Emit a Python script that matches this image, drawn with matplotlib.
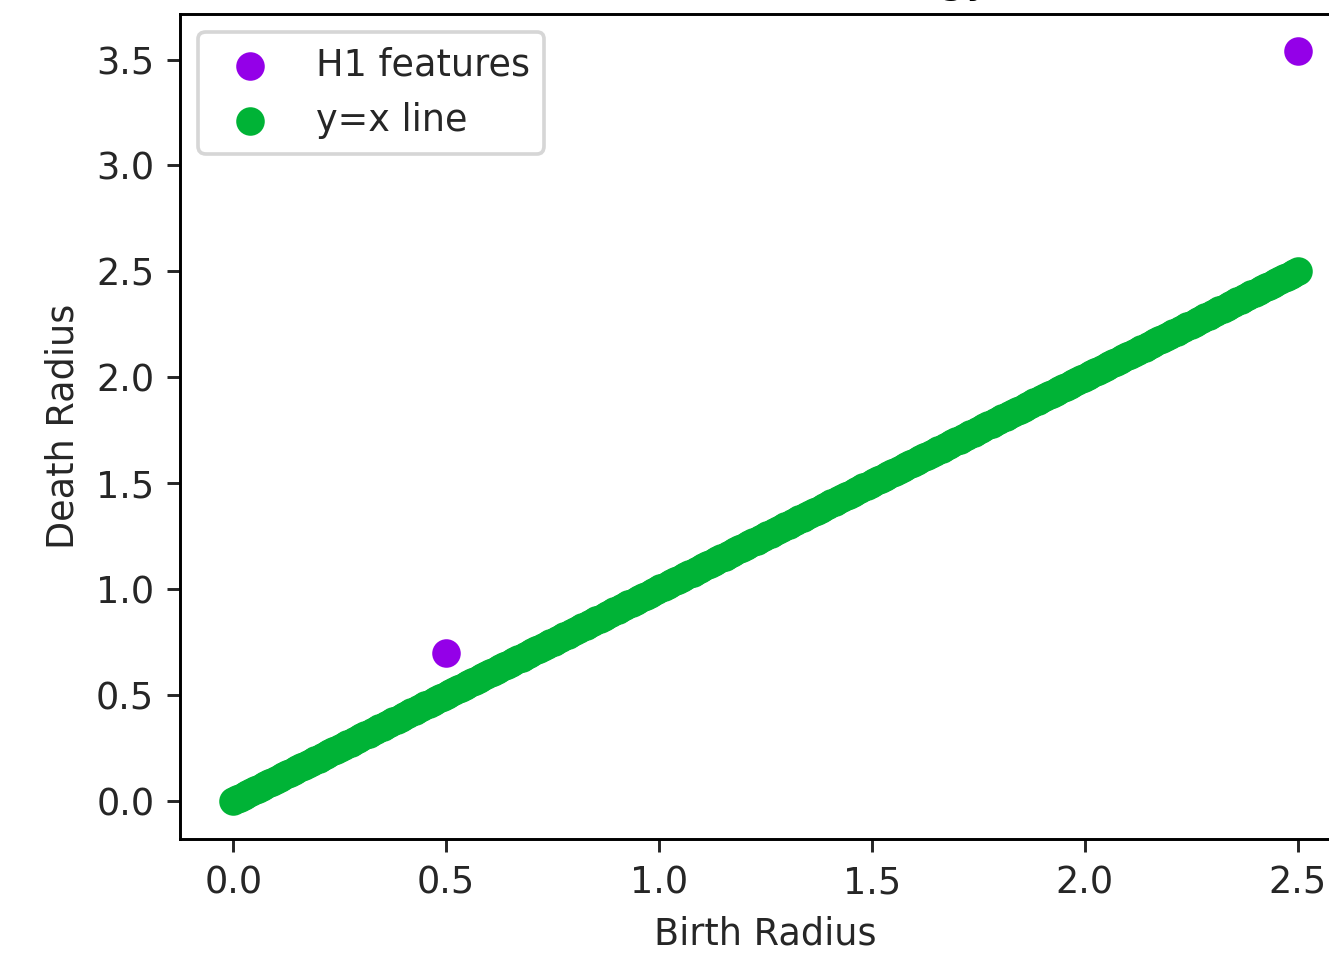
import numpy as np
import matplotlib.pyplot as plt

# H1 persistence pairs (birth, death)
h1_birth = [0.5, 2.5]
h1_death = [0.70, 3.54]

# diagonal reference, drawn as a dense scatter
diag_ends = [0.0, 2.5]
diag = np.linspace(diag_ends[0], diag_ends[1], 300)

dpi = 264
fig = plt.figure(figsize=(1329 / dpi, 953 / dpi), dpi=dpi)
ax = fig.add_axes([180 / 1329, 0.1201, 1171 / 1329, 0.8657])

ax.scatter(h1_birth, h1_death, s=46, color='#9400e8', label='H1 features', zorder=3)
ax.scatter(diag, diag, s=46, color='#00b336', label='y=x line')

ax.tick_params(colors='#262626', labelcolor='#262626')
ax.set_xlabel('Birth Radius', color='#262626')
ax.set_ylabel('Death Radius', color='#262626')
ax.set_title('Persistent Homology')
leg = ax.legend(loc='upper left')
for t in leg.get_texts():
    t.set_color('#262626')

fig.savefig('out.png', dpi=dpi)
